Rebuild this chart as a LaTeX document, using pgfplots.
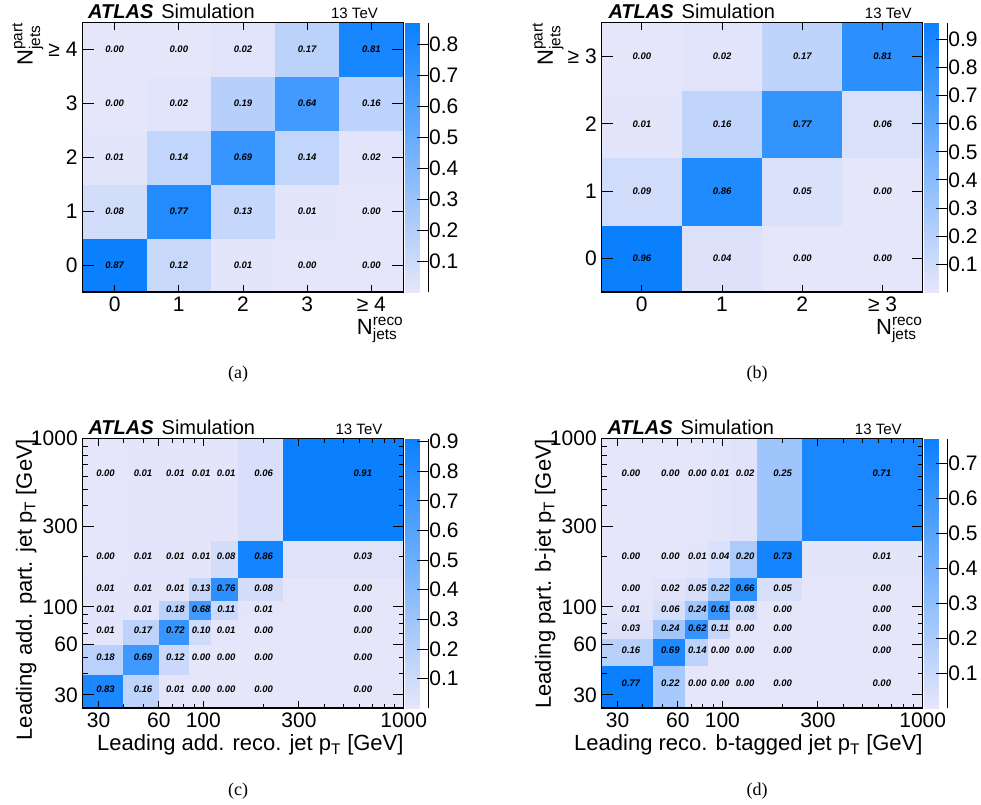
\documentclass[border=0pt]{standalone}
\usepackage{pgfplots}
\usepackage{pgfplotstable}
\pgfplotsset{compat=1.18}
\usepackage{amsmath}
\usepackage{fontspec}
\setmainfont{Liberation Sans}
\newfontfamily\capfont{Liberation Serif}

\pgfplotsset{
  colormap={atlasblue}{rgb255=(230,230,250) rgb255=(10,128,255)},
  /pgf/number format/assume math mode=true,
  heat/.style={
    scale only axis, width=321bp, height=269.5bp,
    anchor=north west,
    colormap name=atlasblue,
    axis on top,
    enlargelimits=false,
    axis line style={line width=1.4bp},
    every tick/.style={black, line width=0.9bp},
    tick align=inside,
    ticklabel style={font=\fontsize{21bp}{24bp}\selectfont},
    xticklabel style={inner sep=1.5bp, yshift=-3bp},
    yticklabel style={inner sep=1.5bp, xshift=-3.3bp},
    label style={font=\fontsize{22bp}{25bp}\selectfont},
    xlabel style={at={(axis description cs:1,-0.158)}, anchor=base east, inner sep=0pt},
    ylabel style={at={(axis description cs:-0.155,1)}, anchor=base east, inner sep=0pt},
    xtick style={/pgfplots/major tick length=7bp, /pgfplots/minor tick length=4bp},
    ytick style={/pgfplots/major tick length=11bp, /pgfplots/minor tick length=5bp},
    colorbar,
    colorbar style={
      width=22.5bp,
      at={(parent axis.north east)}, anchor=north west, xshift=-6.5bp,
      axis x line=none, axis y line*=right,
      axis line style={line width=1bp},
      every tick/.style={black, line width=0.9bp},
      tick align=inside,
      ytick style={/pgfplots/major tick length=11bp},
      yticklabel style={font=\fontsize{21bp}{24bp}\selectfont, inner sep=1bp,
        /pgf/number format/fixed, /pgf/number format/precision=1},
    },
  },
  cellnum/.style={only marks, mark=none, nodes near coords,
    point meta=explicit symbolic,
    every node near coord/.append style={anchor=center, inner sep=0pt,
      font=\fontsize{9.5bp}{10bp}\selectfont\bfseries\itshape, text=black}},
}

% ---------- panel (a) ----------
\pgfplotstableread{
x y c
-0.5 -0.5 0.87
0.5 -0.5 0.12
1.5 -0.5 0.01
2.5 -0.5 0.00
3.5 -0.5 0.00
4.5 -0.5 0
-0.5 0.5 0.08
0.5 0.5 0.77
1.5 0.5 0.13
2.5 0.5 0.01
3.5 0.5 0.00
4.5 0.5 0
-0.5 1.5 0.01
0.5 1.5 0.14
1.5 1.5 0.69
2.5 1.5 0.14
3.5 1.5 0.02
4.5 1.5 0
-0.5 2.5 0.00
0.5 2.5 0.02
1.5 2.5 0.19
2.5 2.5 0.64
3.5 2.5 0.16
4.5 2.5 0
-0.5 3.5 0.00
0.5 3.5 0.00
1.5 3.5 0.02
2.5 3.5 0.17
3.5 3.5 0.81
4.5 3.5 0
-0.5 4.5 0
0.5 4.5 0
1.5 4.5 0
2.5 4.5 0
3.5 4.5 0
4.5 4.5 0
}\grida
\pgfplotstableread{
x y l
0 0 0.87
1 0 0.12
2 0 0.01
3 0 0.00
4 0 0.00
0 1 0.08
1 1 0.77
2 1 0.13
3 1 0.01
4 1 0.00
0 2 0.01
1 2 0.14
2 2 0.69
3 2 0.14
4 2 0.02
0 3 0.00
1 3 0.02
2 3 0.19
3 3 0.64
4 3 0.16
0 4 0.00
1 4 0.00
2 4 0.02
3 4 0.17
4 4 0.81
}\laba

% ---------- panel (b) ----------
\pgfplotstableread{
x y c
-0.5 -0.5 0.96
0.5 -0.5 0.04
1.5 -0.5 0.00
2.5 -0.5 0.00
3.5 -0.5 0
-0.5 0.5 0.09
0.5 0.5 0.86
1.5 0.5 0.05
2.5 0.5 0.00
3.5 0.5 0
-0.5 1.5 0.01
0.5 1.5 0.16
1.5 1.5 0.77
2.5 1.5 0.06
3.5 1.5 0
-0.5 2.5 0.00
0.5 2.5 0.02
1.5 2.5 0.17
2.5 2.5 0.81
3.5 2.5 0
-0.5 3.5 0
0.5 3.5 0
1.5 3.5 0
2.5 3.5 0
3.5 3.5 0
}\gridb
\pgfplotstableread{
x y l
0 0 0.96
1 0 0.04
2 0 0.00
3 0 0.00
0 1 0.09
1 1 0.86
2 1 0.05
3 1 0.00
0 2 0.01
1 2 0.16
2 2 0.77
3 2 0.06
0 3 0.00
1 3 0.02
2 3 0.17
3 3 0.81
}\labb

% ---------- panel (c) ----------
\pgfplotstableread{
x y c
25 25 0.83
40 25 0.16
60 25 0.01
85 25 0.00
110 25 0.00
150 25 0.00
250 25 0.00
1000 25 0
25 40 0.18
40 40 0.69
60 40 0.12
85 40 0.00
110 40 0.00
150 40 0.00
250 40 0.00
1000 40 0
25 60 0.01
40 60 0.17
60 60 0.72
85 60 0.10
110 60 0.01
150 60 0.00
250 60 0.00
1000 60 0
25 85 0.01
40 85 0.01
60 85 0.18
85 85 0.68
110 85 0.11
150 85 0.01
250 85 0.00
1000 85 0
25 110 0.01
40 110 0.01
60 110 0.01
85 110 0.13
110 110 0.76
150 110 0.08
250 110 0.00
1000 110 0
25 150 0.00
40 150 0.01
60 150 0.01
85 150 0.01
110 150 0.08
150 150 0.86
250 150 0.03
1000 150 0
25 250 0.00
40 250 0.01
60 250 0.01
85 250 0.01
110 250 0.01
150 250 0.06
250 250 0.91
1000 250 0
25 1000 0
40 1000 0
60 1000 0
85 1000 0
110 1000 0
150 1000 0
250 1000 0
1000 1000 0
}\gridc
\pgfplotstableread{
x y l
32.5 32.5 0.83
50 32.5 0.16
72.5 32.5 0.01
97.5 32.5 0.00
130 32.5 0.00
200 32.5 0.00
625 32.5 0.00
32.5 50 0.18
50 50 0.69
72.5 50 0.12
97.5 50 0.00
130 50 0.00
200 50 0.00
625 50 0.00
32.5 72.5 0.01
50 72.5 0.17
72.5 72.5 0.72
97.5 72.5 0.10
130 72.5 0.01
200 72.5 0.00
625 72.5 0.00
32.5 97.5 0.01
50 97.5 0.01
72.5 97.5 0.18
97.5 97.5 0.68
130 97.5 0.11
200 97.5 0.01
625 97.5 0.00
32.5 130 0.01
50 130 0.01
72.5 130 0.01
97.5 130 0.13
130 130 0.76
200 130 0.08
625 130 0.00
32.5 200 0.00
50 200 0.01
72.5 200 0.01
97.5 200 0.01
130 200 0.08
200 200 0.86
625 200 0.03
32.5 625 0.00
50 625 0.01
72.5 625 0.01
97.5 625 0.01
130 625 0.01
200 625 0.06
625 625 0.91
}\labc

% ---------- panel (d) ----------
\pgfplotstableread{
x y c
25 25 0.77
45 25 0.22
65 25 0.00
85 25 0.00
110 25 0.00
150 25 0.00
250 25 0.00
1000 25 0
25 45 0.16
45 45 0.69
65 45 0.14
85 45 0.00
110 45 0.00
150 45 0.00
250 45 0.00
1000 45 0
25 65 0.03
45 65 0.24
65 65 0.62
85 65 0.11
110 65 0.00
150 65 0.00
250 65 0.00
1000 65 0
25 85 0.01
45 85 0.06
65 85 0.24
85 85 0.61
110 85 0.08
150 85 0.00
250 85 0.00
1000 85 0
25 110 0.00
45 110 0.02
65 110 0.05
85 110 0.22
110 110 0.66
150 110 0.05
250 110 0.00
1000 110 0
25 150 0.00
45 150 0.00
65 150 0.01
85 150 0.04
110 150 0.20
150 150 0.73
250 150 0.01
1000 150 0
25 250 0.00
45 250 0.00
65 250 0.00
85 250 0.01
110 250 0.02
150 250 0.25
250 250 0.71
1000 250 0
25 1000 0
45 1000 0
65 1000 0
85 1000 0
110 1000 0
150 1000 0
250 1000 0
1000 1000 0
}\gridd
\pgfplotstableread{
x y l
35 35 0.77
55 35 0.22
75 35 0.00
97.5 35 0.00
130 35 0.00
200 35 0.00
625 35 0.00
35 55 0.16
55 55 0.69
75 55 0.14
97.5 55 0.00
130 55 0.00
200 55 0.00
625 55 0.00
35 75 0.03
55 75 0.24
75 75 0.62
97.5 75 0.11
130 75 0.00
200 75 0.00
625 75 0.00
35 97.5 0.01
55 97.5 0.06
75 97.5 0.24
97.5 97.5 0.61
130 97.5 0.08
200 97.5 0.00
625 97.5 0.00
35 130 0.00
55 130 0.02
75 130 0.05
97.5 130 0.22
130 130 0.66
200 130 0.05
625 130 0.00
35 200 0.00
55 200 0.00
75 200 0.01
97.5 200 0.04
130 200 0.20
200 200 0.73
625 200 0.01
35 625 0.00
55 625 0.00
75 625 0.00
97.5 625 0.01
130 625 0.02
200 625 0.25
625 625 0.71
}\labd

\newcommand{\atlasfont}{\fontsize{20bp}{22bp}\selectfont}
\newcommand{\tevfont}{\fontsize{15bp}{17bp}\selectfont}

\begin{document}
\begin{tikzpicture}
\path[use as bounding box] (0,0) rectangle (981bp,805bp);

% ================= (a) =================
\begin{axis}[heat, name=a, at={(82.5bp,782.3bp)},
  xmin=-0.5, xmax=4.5, ymin=-0.5, ymax=4.5,
  xtick={0,1,2,3,4}, xticklabels={0,1,2,3,≥ 4},
  ytick={0,1,2,3,4}, yticklabels={0,1,2,3,≥ 4},
  xlabel={$\text{N}^{\text{reco}}_{\text{jets}}$},
  ylabel={$\text{N}^{\text{part}}_{\text{jets}}$},
  point meta min=0, point meta max=0.87,
  colorbar style={ytick={0.1,0.2,0.3,0.4,0.5,0.6,0.7,0.8}},
]
\addplot[surf, shader=flat corner, mesh/cols=6, point meta=explicit] table[x=x, y=y, meta=c] {\grida};
\addplot[cellnum] table[x=x, y=y, meta=l] {\laba};
\end{axis}

% ================= (b) =================
\begin{axis}[heat, name=b, at={(601.7bp,782.3bp)},
  xmin=-0.5, xmax=3.5, ymin=-0.5, ymax=3.5,
  xtick={0,1,2,3}, xticklabels={0,1,2,≥ 3},
  ytick={0,1,2,3}, yticklabels={0,1,2,≥ 3},
  xlabel={$\text{N}^{\text{reco}}_{\text{jets}}$},
  ylabel={$\text{N}^{\text{part}}_{\text{jets}}$},
  ylabel style={at={(axis description cs:-0.152,1)}},
  point meta min=0, point meta max=0.96,
  colorbar style={ytick={0.1,0.2,0.3,0.4,0.5,0.6,0.7,0.8,0.9}},
]
\addplot[surf, shader=flat corner, mesh/cols=5, point meta=explicit] table[x=x, y=y, meta=c] {\gridb};
\addplot[cellnum] table[x=x, y=y, meta=l] {\labb};
\end{axis}

% ================= (c) =================
\begin{axis}[heat, name=c, at={(82.7bp,366.3bp)},
  xmode=log, ymode=log,
  xmin=25, xmax=1000, ymin=25, ymax=1000,
  xtick={100,1000}, xticklabels={100,1000},
  ytick={100,1000}, yticklabels={100,1000},
  extra x ticks={30,60,300}, extra x tick labels={30,60,300},
  extra y ticks={30,60,300}, extra y tick labels={30,60,300},
  extra x tick style={/pgfplots/major tick length=4bp},
  extra y tick style={/pgfplots/major tick length=5bp},
  minor xtick={40,50,70,80,90,200,400,500,600,700,800,900},
  minor ytick={40,50,70,80,90,200,400,500,600,700,800,900},
  xlabel={Leading add. reco. jet p$_{\text{T}}$ [GeV]},
  ylabel={Leading add. part. jet p$_{\text{T}}$ [GeV]},
  ylabel style={at={(axis description cs:-0.158,1)}},
  point meta min=0, point meta max=0.91,
  colorbar style={ytick={0.1,0.2,0.3,0.4,0.5,0.6,0.7,0.8,0.9}},
]
\addplot[surf, shader=flat corner, mesh/cols=8, point meta=explicit] table[x=x, y=y, meta=c] {\gridc};
\addplot[cellnum] table[x=x, y=y, meta=l] {\labc};
\end{axis}

% ================= (d) =================
\begin{axis}[heat, name=d, at={(601.7bp,366.3bp)},
  xmode=log, ymode=log,
  xmin=25, xmax=1000, ymin=25, ymax=1000,
  xtick={100,1000}, xticklabels={100,1000},
  ytick={100,1000}, yticklabels={100,1000},
  extra x ticks={30,60,300}, extra x tick labels={30,60,300},
  extra y ticks={30,60,300}, extra y tick labels={30,60,300},
  extra x tick style={/pgfplots/major tick length=4bp},
  extra y tick style={/pgfplots/major tick length=5bp},
  minor xtick={40,50,70,80,90,200,400,500,600,700,800,900},
  minor ytick={40,50,70,80,90,200,400,500,600,700,800,900},
  xlabel={Leading reco. b-tagged jet p$_{\text{T}}$ [GeV]},
  ylabel={Leading part. b-jet p$_{\text{T}}$ [GeV]},
  ylabel style={at={(axis description cs:-0.158,1)}},
  point meta min=0, point meta max=0.77,
  colorbar style={ytick={0.1,0.2,0.3,0.4,0.5,0.6,0.7}},
]
\addplot[surf, shader=flat corner, mesh/cols=8, point meta=explicit] table[x=x, y=y, meta=c] {\gridd};
\addplot[cellnum] table[x=x, y=y, meta=l] {\labd};
\end{axis}

% ATLAS labels
\foreach \p/\ax/\tx in {a/5.5/272, b/6.6/286.6, c/5.6/276.3, d/5.6/276.6}{
  \node[anchor=base west, inner sep=0pt, font=\atlasfont] at ([xshift=\ax bp, yshift=3.8bp]\p.north west)
    {\textbf{\textit{ATLAS}}\hspace{8bp}Simulation};
  \node[anchor=base, inner sep=0pt, font=\tevfont] at ([xshift=\tx bp, yshift=3.8bp]\p.north west) {13 TeV};
}

% captions
\node[anchor=base, inner sep=0pt, font=\capfont\fontsize{18bp}{20bp}\selectfont] at (238bp,426bp) {(a)};
\node[anchor=base, inner sep=0pt, font=\capfont\fontsize{18bp}{20bp}\selectfont] at (757bp,426bp) {(b)};
\node[anchor=base, inner sep=0pt, font=\capfont\fontsize{18bp}{20bp}\selectfont] at (238bp,10bp) {(c)};
\node[anchor=base, inner sep=0pt, font=\capfont\fontsize{18bp}{20bp}\selectfont] at (757bp,10bp) {(d)};
\end{tikzpicture}
\end{document}
